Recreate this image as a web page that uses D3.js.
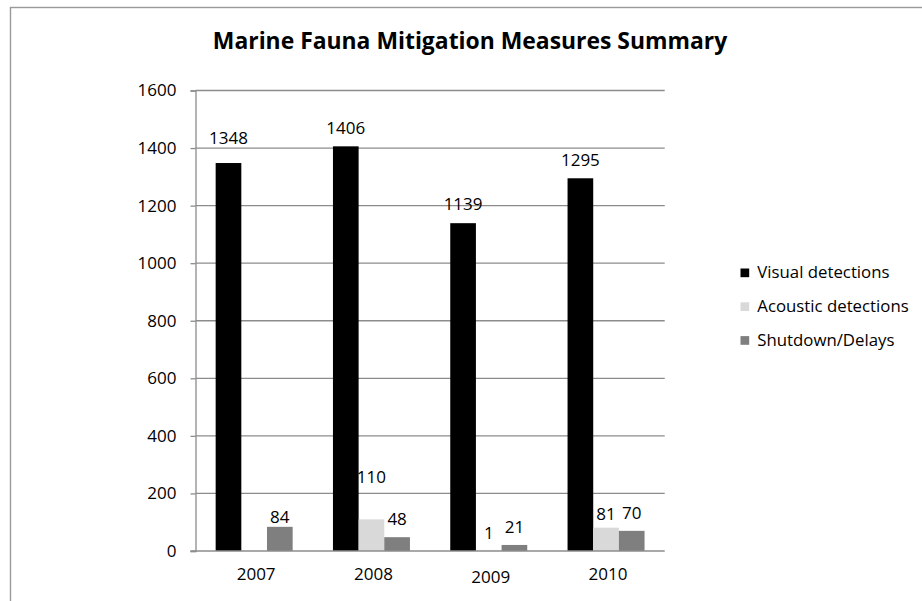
<!DOCTYPE html>
<html>
<head>
<meta charset="utf-8">
<script src="https://cdn.jsdelivr.net/npm/d3@7"></script>
<style>
  html, body { margin: 0; padding: 0; background: #ffffff; }
  svg { display: block; }
  text { font-family: "Open Sans", "Liberation Sans", sans-serif; fill: #000; }
</style>
</head>
<body>
<svg id="chart" width="922" height="601"></svg>
<script>
// ---- data ----
const years = ["2007", "2008", "2009", "2010"];
const seriesNames = ["Visual detections", "Acoustic detections", "Shutdown/Delays"];
const visual = [1348, 1406, 1139, 1295];
const acoustic = [null, 110, 1, 81];
const shutdown = [84, 48, 21, 70];
const yTicks = [0, 200, 400, 600, 800, 1000, 1200, 1400, 1600];
const title = "Marine Fauna Mitigation Measures Summary";

// ---- styling / layout ----
const colors = ["#000000", "#d9d9d9", "#7f7f7f"];
const plot = { left: 195.5, right: 664.7, top: 90.5, bottom: 551 };
const labelGap = 12;
// per-label vertical tweaks (series index, year index) -> extra lift in px
const labelLift = { "0-0": 7, "1-1": 24, "1-3": -4, "0-2": 1, "2-0": -8 };

const svg = d3.select("#chart");

// outer frame
svg.append("rect")
  .attr("x", 10.5).attr("y", 7.5)
  .attr("width", 1000).attr("height", 1000)
  .attr("fill", "none")
  .attr("stroke", "#9a9a9a")
  .attr("stroke-width", 1.4);

// title
svg.append("text")
  .attr("x", 470).attr("y", 48.5)
  .attr("text-anchor", "middle")
  .style("font-size", "22.9px")
  .style("font-weight", "700")
  .text(title);

const x0 = d3.scaleBand()
  .domain(years)
  .range([plot.left, plot.right])
  .paddingInner(0.3436)
  .paddingOuter(0.1718);

const x1 = d3.scaleBand()
  .domain(d3.range(seriesNames.length))
  .range([0, x0.bandwidth()]);

const y = d3.scaleLinear()
  .domain([0, 1600])
  .range([plot.bottom, plot.top]);

// horizontal gridlines
svg.append("g")
  .selectAll("line")
  .data(yTicks.filter(d => d > 0))
  .join("line")
  .attr("x1", plot.left).attr("x2", plot.right)
  .attr("y1", d => y(d)).attr("y2", d => y(d))
  .attr("stroke", "#8c8c8c")
  .attr("stroke-width", 1.3);

// y axis
const yAxis = d3.axisLeft(y)
  .tickValues(yTicks)
  .tickSize(5)
  .tickPadding(14)
  .tickFormat(d3.format("d"));

const yg = svg.append("g")
  .attr("transform", `translate(${plot.left},0)`)
  .call(yAxis);
yg.select(".domain").attr("stroke", "#8c8c8c").attr("stroke-width", 1.3);
yg.selectAll(".tick line").attr("stroke", "#8c8c8c").attr("stroke-width", 1.3);
yg.selectAll(".tick text")
  .style("font-size", "17px")
  .style("font-family", "'Open Sans', sans-serif")
  .attr("fill", "#000");

// bars
const seriesValues = [visual, acoustic, shutdown];
const barData = [];
seriesValues.forEach((vals, si) => {
  vals.forEach((v, yi) => {
    if (v !== null) barData.push({ si, yi, v });
  });
});

const bars = svg.append("g");
bars.selectAll("rect")
  .data(barData)
  .join("rect")
  .attr("x", d => x0(years[d.yi]) + x1(d.si))
  .attr("width", x1.bandwidth())
  .attr("y", d => y(d.v))
  .attr("height", d => y(0) - y(d.v))
  .attr("fill", d => colors[d.si]);

// x baseline (drawn over bars)
svg.append("line")
  .attr("x1", plot.left - 5).attr("x2", plot.right)
  .attr("y1", y(0)).attr("y2", y(0))
  .attr("stroke", "#8c8c8c")
  .attr("stroke-width", 1.3);

// x category labels
svg.append("g")
  .selectAll("text")
  .data(years)
  .join("text")
  .attr("x", d => x0(d) + x0.bandwidth() / 2 + 2)
  .attr("y", (d, i) => y(0) + 29 + (i === 2 ? 3 : 0))
  .attr("text-anchor", "middle")
  .style("font-size", "17px")
  .text(d => d);

// value labels
svg.append("g")
  .selectAll("text")
  .data(barData)
  .join("text")
  .attr("x", d => x0(years[d.yi]) + x1(d.si) + x1.bandwidth() / 2)
  .attr("y", d => y(d.v) - labelGap - (labelLift[`${d.si}-${d.yi}`] || 0))
  .attr("text-anchor", "middle")
  .style("font-size", "17px")
  .text(d => d.v);

// legend
const legend = svg.append("g").attr("transform", "translate(740.5,268.5)");
const items = legend.selectAll("g")
  .data(seriesNames)
  .join("g")
  .attr("transform", (d, i) => `translate(0,${i * 33.8})`);
items.append("rect")
  .attr("width", 8.7).attr("height", 8.7)
  .attr("fill", (d, i) => colors[i]);
items.append("text")
  .attr("x", 16.8).attr("y", 9.4)
  .style("font-size", "16.8px")
  .text(d => d);
</script>
</body>
</html>
